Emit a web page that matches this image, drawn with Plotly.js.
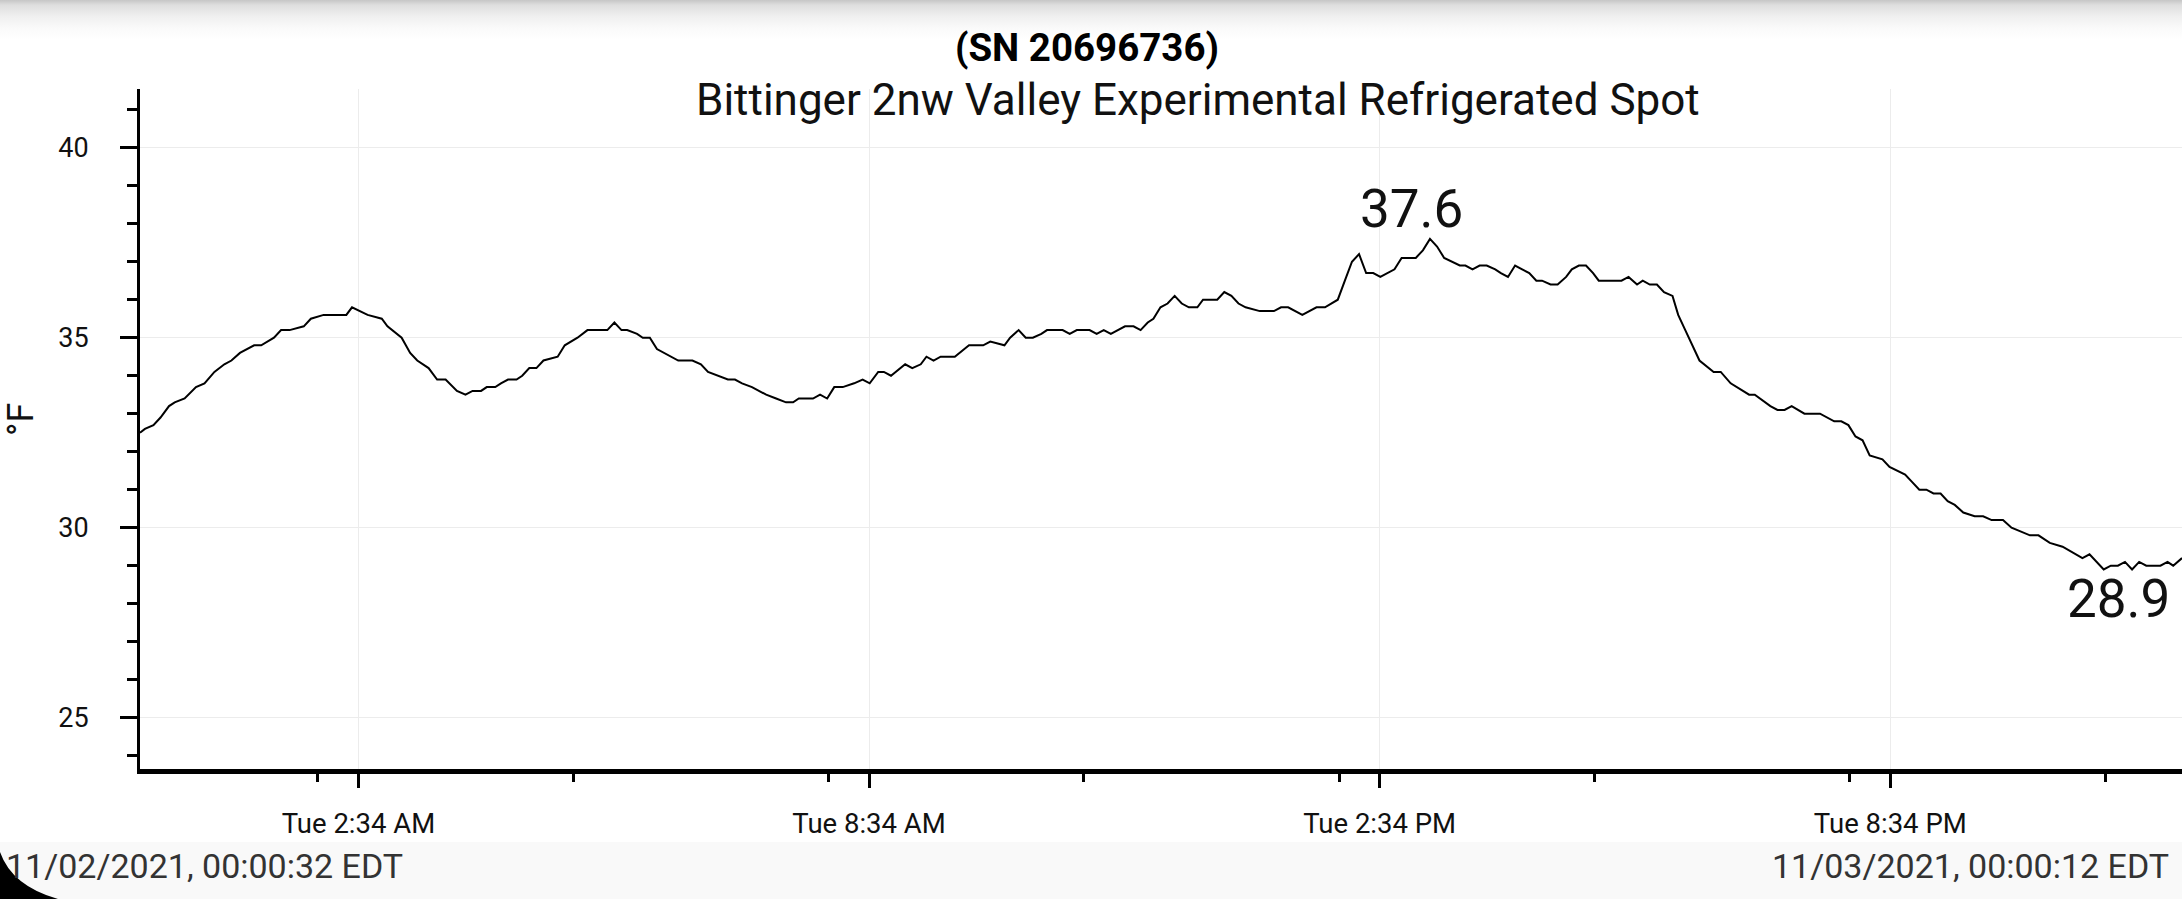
<!DOCTYPE html>
<html>
<head>
<meta charset="utf-8">
<script src="https://cdn.plot.ly/plotly-3.0.1.min.js"></script>
<style>
  html, body { margin: 0; padding: 0; overflow: hidden; }
  body {
    width: 2182px; height: 899px;
    background: linear-gradient(to bottom, #c6c6c6 0px, #dedede 5px, #efefef 16px, #fafafa 28px, #ffffff 40px);
  }
  #chart { width: 2182px; height: 899px; }
</style>
</head>
<body>
<div id="chart"></div>
<script>
// Logger readings, 11/02/2021 (EDT). Clock times, last one is next day.
var times = [
  '00:00:32', '00:04', '00:10', '00:15', '00:21', '00:25', '00:32', '00:40', '00:46', '00:53',
  '01:00', '01:05', '01:11', '01:16', '01:21', '01:26', '01:31', '01:35', '01:40', '01:46',
  '01:56', '02:01', '02:10', '02:17', '02:26', '02:30', '02:41', '02:51', '02:55', '03:05',
  '03:11', '03:16', '03:24', '03:30', '03:36', '03:44', '03:50', '03:55', '04:01', '04:05',
  '04:11', '04:15', '04:20', '04:26', '04:30', '04:35', '04:40', '04:45', '04:55', '05:00',
  '05:09', '05:16', '05:30', '05:35', '05:40', '05:44', '05:51', '05:55', '06:00', '06:05',
  '06:15', '06:20', '06:30', '06:36', '06:41', '06:48', '06:55', '07:00', '07:05', '07:12',
  '07:22', '07:29', '07:36', '07:41', '07:45', '07:55', '08:00', '08:05', '08:10', '08:16',
  '08:24', '08:30', '08:35', '08:41', '08:45', '08:50', '09:00', '09:05', '09:11', '09:15',
  '09:20', '09:25', '09:35', '09:45', '09:50', '09:55', '10:00', '10:10', '10:14', '10:20',
  '10:25', '10:30', '10:36', '10:40', '10:45', '10:51', '10:56', '11:01', '11:05', '11:10',
  '11:15', '11:20', '11:25', '11:30', '11:35', '11:41', '11:46', '11:51', '11:55', '12:00',
  '12:05', '12:10', '12:15', '12:20', '12:26', '12:30', '12:40', '12:45', '12:50', '12:55',
  '13:00', '13:10', '13:20', '13:25', '13:30', '13:40', '13:50', '13:56', '14:01', '14:05',
  '14:10', '14:15', '14:20', '14:25', '14:30', '14:35', '14:45', '14:50', '15:00', '15:05',
  '15:10', '15:15', '15:20', '15:25', '15:31', '15:35', '15:40', '15:45', '15:50', '15:56',
  '16:00', '16:05', '16:10', '16:15', '16:20', '16:25', '16:29', '16:35', '16:40', '16:46',
  '16:50', '16:55', '17:00', '17:05', '17:09', '17:15', '17:25', '17:30', '17:36', '17:40',
  '17:45', '17:50', '17:55', '18:01', '18:05', '18:10', '18:15', '18:20', '18:30', '18:35',
  '18:42', '18:55', '18:59', '19:10', '19:15', '19:20', '19:25', '19:34', '19:45', '19:50',
  '19:55', '20:00', '20:05', '20:10', '20:15', '20:20', '20:29', '20:34', '20:40', '20:45',
  '20:50', '20:55', '21:00', '21:05', '21:10', '21:15', '21:20', '21:26', '21:34', '21:40',
  '21:46', '21:54', '22:00', '22:06', '22:13', '22:19', '22:27', '22:36', '22:46', '22:50',
  '22:55', '23:00', '23:05', '23:10', '23:15', '23:20', '23:25', '23:30', '23:35', '23:45',
  '23:50', '23:54', '2021-11-03 00:00:12'
];

// Temperature, °F
var temps = [
  32.5, 32.6, 32.7, 32.9, 33.2, 33.3, 33.4, 33.7, 33.8, 34.1,
  34.3, 34.4, 34.6, 34.7, 34.8, 34.8, 34.9, 35.0, 35.2, 35.2,
  35.3, 35.5, 35.6, 35.6, 35.6, 35.8, 35.6, 35.5, 35.3, 35.0,
  34.6, 34.4, 34.2, 33.9, 33.9, 33.6, 33.5, 33.6, 33.6, 33.7,
  33.7, 33.8, 33.9, 33.9, 34.0, 34.2, 34.2, 34.4, 34.5, 34.8,
  35.0, 35.2, 35.2, 35.4, 35.2, 35.2, 35.1, 35.0, 35.0, 34.7,
  34.5, 34.4, 34.4, 34.3, 34.1, 34.0, 33.9, 33.9, 33.8, 33.7,
  33.5, 33.4, 33.3, 33.3, 33.4, 33.4, 33.5, 33.4, 33.7, 33.7,
  33.8, 33.9, 33.8, 34.1, 34.1, 34.0, 34.3, 34.2, 34.3, 34.5,
  34.4, 34.5, 34.5, 34.8, 34.8, 34.8, 34.9, 34.8, 35.0, 35.2,
  35.0, 35.0, 35.1, 35.2, 35.2, 35.2, 35.1, 35.2, 35.2, 35.2,
  35.1, 35.2, 35.1, 35.2, 35.3, 35.3, 35.2, 35.4, 35.5, 35.8,
  35.9, 36.1, 35.9, 35.8, 35.8, 36.0, 36.0, 36.2, 36.1, 35.9,
  35.8, 35.7, 35.7, 35.8, 35.8, 35.6, 35.8, 35.8, 35.9, 36.0,
  36.5, 37.0, 37.2, 36.7, 36.7, 36.6, 36.8, 37.1, 37.1, 37.3,
  37.6, 37.4, 37.1, 37.0, 36.9, 36.9, 36.8, 36.9, 36.9, 36.8,
  36.7, 36.6, 36.9, 36.8, 36.7, 36.5, 36.5, 36.4, 36.4, 36.6,
  36.8, 36.9, 36.9, 36.7, 36.5, 36.5, 36.5, 36.6, 36.4, 36.5,
  36.4, 36.4, 36.2, 36.1, 35.6, 35.2, 34.8, 34.4, 34.1, 34.1,
  33.8, 33.5, 33.5, 33.2, 33.1, 33.1, 33.2, 33.0, 33.0, 32.9,
  32.8, 32.8, 32.7, 32.4, 32.3, 31.9, 31.8, 31.6, 31.5, 31.4,
  31.2, 31.0, 31.0, 30.9, 30.9, 30.7, 30.6, 30.4, 30.3, 30.3,
  30.2, 30.2, 30.0, 29.9, 29.8, 29.8, 29.6, 29.5, 29.3, 29.2,
  29.3, 29.1, 28.9, 29.0, 29.0, 29.1, 28.9, 29.1, 29.0, 29.0,
  29.1, 29.0, 29.2
];

var tickTimes = ['02:34:32', '08:34:32', '14:34:32', '20:34:32'];
var tickLabels = ['Tue 2:34 AM', 'Tue 8:34 AM', 'Tue 2:34 PM', 'Tue 8:34 PM'];

var startLabel = '11/02/2021, 00:00:32 EDT';
var endLabel = '11/03/2021, 00:00:12 EDT';
var titleText = '(SN 20696736)';
var subtitleText = 'Bittinger 2nw Valley Experimental Refrigerated Spot';

function stamp(t) {
  return t.length > 8 ? t : '2021-11-02 ' + t;
}

var x = times.map(stamp);

// find extremes for the value labels
var iMax = 0, iMin = 0;
temps.forEach(function(v, i) {
  if (v > temps[iMax]) iMax = i;
  if (v < temps[iMin]) iMin = i;
});

var W = 2182, H = 899;
var M = { l: 140, r: 0, t: 89, b: 130 };
var PW = W - M.l - M.r, PH = H - M.t - M.b;
// pixel -> paper helpers for decoration
function px(v) { return (v - M.l) / PW; }
function py(v) { return (H - M.b - v) / PH; }

var font = 'Roboto, "Noto Sans", sans-serif';

var trace = {
  x: x,
  y: temps,
  type: 'scatter',
  mode: 'lines',
  line: { color: '#000', width: 2 },
  hoverinfo: 'skip'
};

var cornerPath = 'M ' + px(0) + ',' + py(852) +
  ' Q ' + px(12) + ',' + py(886) + ' ' + px(58) + ',' + py(899) +
  ' L ' + px(0) + ',' + py(899) + ' Z';

var layout = {
  width: W,
  height: H,
  margin: M,
  paper_bgcolor: 'rgba(0,0,0,0)',
  plot_bgcolor: '#fff',
  showlegend: false,
  hovermode: false,
  font: { family: font, color: '#111', size: 27 },
  title: {
    text: '<b>' + titleText + '</b>',
    font: { family: font, size: 38.5, color: '#000' },
    xref: 'container', x: 1087 / W, xanchor: 'center',
    yref: 'container', y: 1 - 48 / H, yanchor: 'middle'
  },
  xaxis: {
    type: 'date',
    range: [x[0], x[x.length - 1]],
    tickmode: 'array',
    tickvals: tickTimes.map(stamp),
    ticktext: tickLabels,
    ticks: 'outside',
    ticklen: 14,
    tickwidth: 3,
    tickcolor: '#000',
    ticklabelstandoff: 12,
    tickfont: { family: font, size: 27.5, color: '#111' },
    showline: true,
    linecolor: '#000',
    linewidth: 5,
    showgrid: true,
    gridcolor: '#ececec',
    gridwidth: 1,
    zeroline: false,
    fixedrange: true,
    minor: {
      tick0: '2021-11-02 02:06:00',
      dtick: 3 * 3600 * 1000,
      ticks: 'outside',
      ticklen: 8,
      tickwidth: 3,
      tickcolor: '#000',
      showgrid: false
    }
  },
  yaxis: {
    range: [23.65, 41.545],
    tick0: 25,
    dtick: 5,
    ticks: 'outside',
    ticklen: 17,
    tickwidth: 3,
    tickcolor: '#000',
    ticklabelstandoff: 26,
    tickfont: { family: font, size: 27, color: '#111' },
    showline: true,
    linecolor: '#000',
    linewidth: 3,
    showgrid: true,
    gridcolor: '#ececec',
    gridwidth: 1,
    zeroline: false,
    fixedrange: true,
    minor: {
      dtick: 1,
      ticks: 'outside',
      ticklen: 10,
      tickwidth: 3,
      tickcolor: '#000',
      showgrid: false
    }
  },
  shapes: [
    { type: 'rect', xref: 'paper', yref: 'paper', layer: 'below',
      x0: px(0), x1: px(W), y0: py(842), y1: py(H),
      fillcolor: '#f9f9f9', line: { width: 0 } },
    { type: 'path', xref: 'paper', yref: 'paper', path: cornerPath,
      fillcolor: '#000', line: { width: 0 } }
  ],
  annotations: [
    { xref: 'paper', yref: 'paper', x: px(1198), y: py(100),
      xanchor: 'center', yanchor: 'middle', showarrow: false,
      text: subtitleText, font: { family: font, size: 44, color: '#111' } },
    { xref: 'paper', yref: 'paper', x: px(21), y: py(420),
      xanchor: 'center', yanchor: 'middle', showarrow: false, textangle: -90,
      text: '°F', font: { family: font, size: 36, color: '#111' } },
    { x: x[iMax], y: temps[iMax], xref: 'x', yref: 'y', showarrow: false,
      xshift: -18, yshift: 30, yanchor: 'middle',
      text: temps[iMax].toFixed(1), font: { family: font, size: 53, color: '#111' } },
    { x: x[iMin], y: temps[iMin], xref: 'x', yref: 'y', showarrow: false,
      xshift: 15, yshift: -29, yanchor: 'middle',
      text: temps[iMin].toFixed(1), font: { family: font, size: 53, color: '#111' } },
    { xref: 'paper', yref: 'paper', x: px(4), y: py(866),
      xanchor: 'left', yanchor: 'middle', showarrow: false,
      text: startLabel, font: { family: font, size: 34, color: '#333' } },
    { xref: 'paper', yref: 'paper', x: px(2171), y: py(866),
      xanchor: 'right', yanchor: 'middle', showarrow: false,
      text: endLabel, font: { family: font, size: 34, color: '#333' } }
  ]
};

Plotly.newPlot('chart', [trace], layout, { displayModeBar: false, staticPlot: true });
</script>
</body>
</html>
